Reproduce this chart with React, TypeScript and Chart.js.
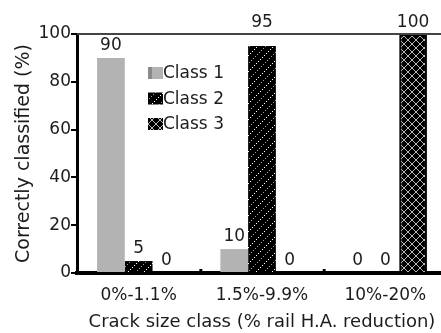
import React, { useEffect, useRef } from "react";
import { Chart, registerables } from "chart.js";

Chart.register(...registerables);

const categories = ["0%-1.1%", "1.5%-9.9%", "10%-20%"];
const seriesNames = ["Class 1", "Class 2", "Class 3"];
const class1Values = [90, 10, 0];
const class2Values = [5, 95, 0];
const class3Values = [0, 0, 100];
const yMin = 0;
const yMax = 100;
const yStep = 20;
const xTitle = "Crack size class (% rail H.A. reduction)";
const yTitle = "Correctly classified (%)";

const FONT = "DejaVu Sans";
const TEXT = "#1c1c1c";

function makeTile(kind: number): CanvasPattern | string {
  const c = document.createElement("canvas");
  if (kind === 1) {
    c.width = 16;
    c.height = 16;
    const g = c.getContext("2d")!;
    g.fillStyle = "#000";
    g.fillRect(0, 0, 16, 16);
    for (let i = 0; i < 16; i += 2) {
      g.fillStyle = "#fff";
      g.fillRect(i, 15 - i, 1, 1);
      g.fillStyle = "#9a9a9a";
      g.fillRect(i + 1, (15 - i + 7) % 16, 1, 1);
    }
    return g.createPattern(c, "repeat")!;
  }
  c.width = 8;
  c.height = 8;
  const g = c.getContext("2d")!;
  g.fillStyle = "#000";
  g.fillRect(0, 0, 8, 8);
  g.fillStyle = "#b8b8b8";
  for (let i = 0; i < 8; i++) {
    g.fillRect(i, i, 1, 1);
    g.fillRect(7 - i, i, 1, 1);
  }
  return g.createPattern(c, "repeat")!;
}

export default function App() {
  const ref = useRef<HTMLCanvasElement | null>(null);

  useEffect(() => {
    const canvas = ref.current;
    if (!canvas) return;
    Chart.defaults.font.family = FONT;
    const fills: any[] = ["#b3b3b3", makeTile(1), makeTile(2)];

    const extras = {
      id: "extras",
      afterDatasetsDraw(chart: any) {
        const ctx = chart.ctx as CanvasRenderingContext2D;
        const area = chart.chartArea;
        ctx.save();
        // top frame line
        ctx.strokeStyle = "#444";
        ctx.lineWidth = 2;
        ctx.beginPath();
        ctx.moveTo(area.left, area.top);
        ctx.lineTo(area.right + 5, area.top);
        ctx.stroke();
        // category separator marks
        const xs = chart.scales.x;
        const n = categories.length;
        const w = (area.right - area.left) / n;
        ctx.fillStyle = "#000";
        for (let k = 1; k < n; k++) {
          const px = area.left + w * k;
          ctx.fillRect(px - 1, area.bottom - 4, 3, 4);
        }
        // value labels
        ctx.font = `17px "${FONT}"`;
        ctx.fillStyle = TEXT;
        ctx.textAlign = "center";
        ctx.textBaseline = "alphabetic";
        chart.data.datasets.forEach((ds: any, i: number) => {
          const meta = chart.getDatasetMeta(i);
          meta.data.forEach((el: any, j: number) => {
            let y = el.y - 8;
            if (y - 13 < area.top) y = area.top - 7;
            ctx.fillText(String(ds.data[j]), el.x, y);
          });
        });
        // legend
        const lx = area.left + 71;
        const ly = area.top + 39;
        ctx.textAlign = "left";
        ctx.textBaseline = "middle";
        seriesNames.forEach((name, i) => {
          const cy = ly + i * 25.5;
          ctx.fillStyle = fills[i];
          ctx.fillRect(lx, cy - 6, 15, 12);
          if (i === 0) {
            ctx.fillStyle = "#8a8a8a";
            ctx.fillRect(lx, cy - 6, 4, 12);
          }
          ctx.fillStyle = TEXT;
          ctx.fillText(name, lx + 15, cy + 1);
        });
        ctx.restore();
      },
    };

    const chart = new Chart(canvas, {
      type: "bar",
      data: {
        labels: categories,
        datasets: [
          { label: seriesNames[0], data: class1Values, backgroundColor: fills[0], borderWidth: 0 },
          { label: seriesNames[1], data: class2Values, backgroundColor: fills[1], borderColor: "#000", borderWidth: 0 },
          { label: seriesNames[2], data: class3Values, backgroundColor: fills[2], borderColor: "#000", borderWidth: 2 },
        ],
      },
      options: {
        responsive: false,
        animation: false,
        devicePixelRatio: 1,
        layout: { padding: { top: 34, right: 1, left: 0, bottom: 0 } },
        datasets: { bar: { categoryPercentage: 0.675, barPercentage: 1 } },
        plugins: { legend: { display: false }, tooltip: { enabled: false }, title: { display: false } },
        scales: {
          x: {
            afterFit(s: any) { s.height = 60; },
            grid: { display: false, drawTicks: false },
            border: { display: true, color: "#000", width: 4 },
            ticks: { color: TEXT, font: { size: 17, family: FONT }, padding: 12, maxRotation: 0 },
            title: { display: true, text: xTitle, color: TEXT, font: { size: 18, family: FONT }, padding: { top: 0, bottom: 0 } },
          },
          y: {
            min: yMin,
            max: yMax,
            afterFit(s: any) { s.width = 77; },
            grid: { display: true, drawOnChartArea: false, drawTicks: true, tickLength: 6, color: "#000", lineWidth: 2 },
            border: { display: true, color: "#000", width: 3 },
            ticks: { stepSize: yStep, color: TEXT, font: { size: 17, family: FONT }, padding: 0 },
            title: { display: true, text: yTitle, color: TEXT, font: { size: 19, family: FONT }, padding: { top: 13, bottom: 0 } },
          },
        },
      },
      plugins: [extras],
    });
    return () => chart.destroy();
  }, []);

  return (
    <div style={{ position: "absolute", left: 0, top: 0, width: 441, height: 333, overflow: "hidden", background: "#fff" }}>
      <canvas ref={ref} width={448} height={333} style={{ width: 448, height: 333, display: "block" }} />
    </div>
  );
}
